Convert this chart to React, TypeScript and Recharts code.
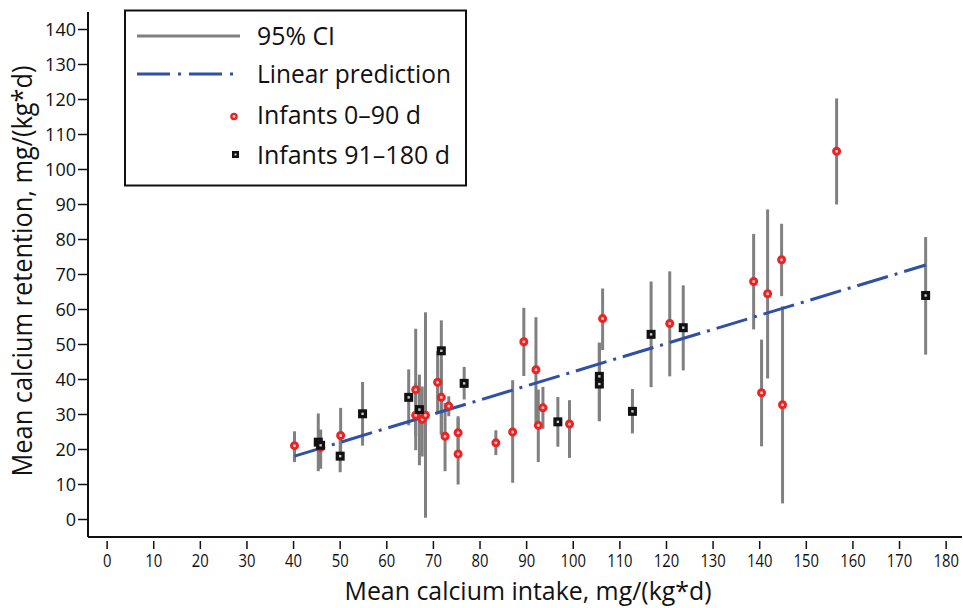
import { ComposedChart, Scatter, XAxis, YAxis, ErrorBar, Label } from "recharts";

// Infants 0–90 d: mean intake, mean retention, 95% CI bounds
const youngX = [40.2, 45.8, 50.1, 66.2, 66.2, 67.6, 68.3, 70.9, 71.7, 72.5, 73.3, 75.3, 75.3, 83.4, 87.0, 89.4, 92.0, 92.5, 93.5, 99.2, 106.3, 120.7, 138.7, 140.4, 141.7, 144.7, 144.9, 156.5];
const youngY = [21.1, 20.6, 24.0, 37.1, 29.8, 28.6, 29.8, 39.2, 34.9, 23.8, 32.4, 24.8, 18.7, 21.9, 25.0, 50.8, 42.8, 26.9, 31.9, 27.3, 57.4, 56.0, 68.0, 36.2, 64.5, 74.2, 32.8, 105.2];
const youngLow = [16.4, 14.5, 17.0, 19.8, 23.8, 18.0, 0.5, 30.5, 24.3, 13.8, 29.5, 20.0, 10.0, 18.4, 10.5, 41.0, 27.6, 16.4, 25.9, 17.6, 48.4, 40.9, 54.3, 20.9, 40.3, 63.8, 4.6, 90.0];
const youngHigh = [25.2, 25.5, 31.9, 54.5, 39.0, 38.0, 59.2, 48.1, 45.7, 33.3, 35.2, 29.5, 29.0, 25.5, 39.8, 60.5, 57.8, 37.1, 37.9, 34.1, 66.0, 70.9, 81.6, 51.4, 88.6, 84.5, 60.9, 120.3];

// Infants 91–180 d
const olderX = [45.3, 45.8, 50.0, 54.8, 64.7, 67.0, 71.7, 76.6, 96.7, 105.6, 105.6, 112.7, 116.7, 123.6, 175.6];
const olderY = [22.1, 21.2, 18.1, 30.2, 34.9, 31.4, 48.2, 38.9, 27.9, 40.9, 38.7, 30.9, 52.9, 54.8, 64.0];
const olderLow = [13.8, 14.9, 13.5, 21.1, 26.9, 15.5, 24.3, 34.3, 20.8, 28.1, 28.1, 24.6, 37.8, 42.6, 47.1];
const olderHigh = [30.3, 25.7, 23.0, 39.3, 42.9, 41.4, 56.9, 43.6, 35.0, 50.5, 50.5, 37.3, 68.0, 66.9, 80.7];

// linear prediction end points
const predX = [40.2, 175.6];
const predY = [18.1, 72.7];

const xTicks = [0, 10, 20, 30, 40, 50, 60, 70, 80, 90, 100, 110, 120, 130, 140, 150, 160, 170, 180];
const yTicks = [0, 10, 20, 30, 40, 50, 60, 70, 80, 90, 100, 110, 120, 130, 140];

const FONT = "'Open Sans', 'DejaVu Sans', sans-serif";
const CI_GRAY = "#808080";
const BLUE = "#2f4fa8";
const RED = "#ee2222";

function buildRows(xs: number[], ys: number[], lows: number[], highs: number[]) {
  return xs.map((x, i) => ({ x, y: ys[i], ci: [ys[i] - lows[i], highs[i] - ys[i]] }));
}

const youngRows = buildRows(youngX, youngY, youngLow, youngHigh);
const olderRows = buildRows(olderX, olderY, olderLow, olderHigh);
const predRows = predX.map((x, i) => ({ x, y: predY[i] }));

const Empty = () => <g />;

function RedDot(props: any) {
  const { cx, cy } = props;
  return <circle cx={cx} cy={cy} r={3} fill="#f8c8c8" stroke={RED} strokeWidth={3} />;
}

function BlackSquare(props: any) {
  const { cx, cy } = props;
  return (
    <g>
      <rect x={cx - 4.5} y={cy - 4.5} width={9} height={9} fill="#111" />
      <rect x={cx - 1.2} y={cy - 1.2} width={2.4} height={2.4} fill="#ccc" />
    </g>
  );
}

function XTick(props: any) {
  const { x, y, payload } = props;
  return (
    <g>
      <line x1={x} x2={x} y1={y + 4} y2={y + 12} stroke="#111" strokeWidth={1.5} />
      <text
        transform={`translate(${x}, ${y + 30}) scale(0.78, 1)`}
        textAnchor="middle"
        fontSize={19}
        fontFamily={FONT}
        fill="#111"
      >
        {payload.value}
      </text>
    </g>
  );
}

function ChartLegend() {
  return (
    <svg
      width={344}
      height={179}
      style={{ position: "absolute", left: 124, top: 9 }}
    >
      <rect x={1} y={1.5} width={341} height={175} fill="#fff" stroke="#111" strokeWidth={2} />
      <line x1={13} x2={116} y1={27} y2={27} stroke={CI_GRAY} strokeWidth={3} />
      <line x1={13} x2={116} y1={65} y2={65} stroke={BLUE} strokeWidth={3} strokeDasharray="33 8 3 8" />
      <circle cx={110} cy={107.5} r={2.6} fill="#f8c8c8" stroke={RED} strokeWidth={2.4} />
      <rect x={108} y={142} width={7} height={7} fill="#111" />
      <rect x={110.5} y={144.5} width={2} height={2} fill="#ccc" />
      <g fontFamily={FONT} fontSize={25} fill="#111">
        <text x={133} y={35.5} textLength={78} lengthAdjust="spacingAndGlyphs">95% CI</text>
        <text x={133} y={74} textLength={194} lengthAdjust="spacingAndGlyphs">Linear prediction</text>
        <text x={133} y={114.5} textLength={164} lengthAdjust="spacingAndGlyphs">Infants 0–90 d</text>
        <text x={133} y={155} textLength={193} lengthAdjust="spacingAndGlyphs">Infants 91–180 d</text>
      </g>
    </svg>
  );
}

export default function App() {
  return (
    <div style={{ position: "absolute", left: 0, top: 0, width: 963, height: 608, background: "#fff" }}>
      <ComposedChart width={963} height={608} margin={{ top: 12, right: 1, left: 0, bottom: 0 }}>
        <XAxis
          type="number"
          dataKey="x"
          domain={[-4.1, 183.4]}
          ticks={xTicks}
          allowDataOverflow
          interval={0}
          height={71}
          tickSize={0}
          tickMargin={0}
          tickLine={false}
          tick={<XTick />}
          axisLine={{ stroke: "#111", strokeWidth: 2 }}
        >
          <Label
            content={() => (
              <text
                x={528}
                y={600}
                textAnchor="middle"
                fontSize={26}
                fontFamily={FONT}
                fill="#111"
                textLength={367}
                lengthAdjust="spacingAndGlyphs"
              >
                Mean calcium intake, mg/(kg*d)
              </text>
            )}
          />
        </XAxis>
        <YAxis
          type="number"
          dataKey="y"
          domain={[-5, 145]}
          ticks={yTicks}
          allowDataOverflow
          interval={0}
          width={88}
          tickSize={10}
          tickMargin={2}
          tickLine={{ stroke: "#111", strokeWidth: 1.5 }}
          axisLine={{ stroke: "#111", strokeWidth: 2 }}
          tick={{ fontSize: 18, fontFamily: FONT, fill: "#111" }}
        >
          <Label
            content={() => (
              <text
                transform="translate(32, 271) rotate(-90)"
                textAnchor="middle"
                fontSize={28}
                fontFamily={FONT}
                fill="#111"
                textLength={411}
                lengthAdjust="spacingAndGlyphs"
              >
                Mean calcium retention, mg/(kg*d)
              </text>
            )}
          />
        </YAxis>

        <Scatter data={youngRows} shape={Empty} isAnimationActive={false}>
          <ErrorBar dataKey="ci" direction="y" width={0} stroke={CI_GRAY} strokeWidth={3} />
        </Scatter>
        <Scatter data={olderRows} shape={Empty} isAnimationActive={false}>
          <ErrorBar dataKey="ci" direction="y" width={0} stroke={CI_GRAY} strokeWidth={3} />
        </Scatter>
        <Scatter
          data={predRows}
          shape={Empty}
          line={{ stroke: BLUE, strokeWidth: 3, strokeDasharray: "32 7 3 7" }}
          lineType="joint"
          isAnimationActive={false}
        />
        <Scatter data={youngRows} shape={RedDot} isAnimationActive={false} />
        <Scatter data={olderRows} shape={BlackSquare} isAnimationActive={false} />
      </ComposedChart>
      <ChartLegend />
    </div>
  );
}
